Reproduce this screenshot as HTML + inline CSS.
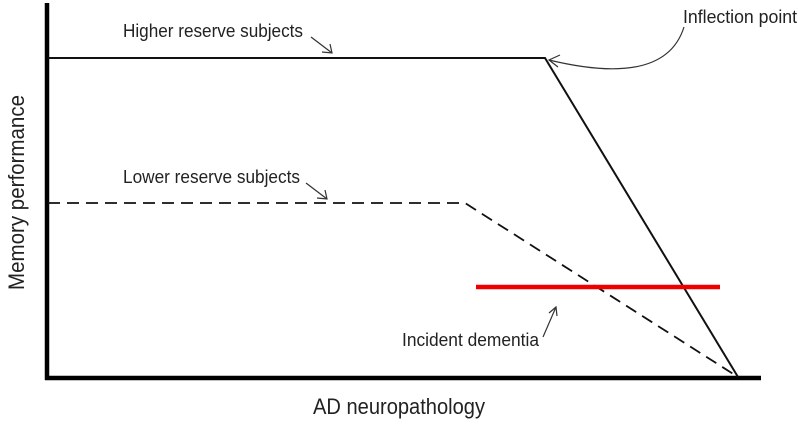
<!DOCTYPE html>
<html><head><style>body{margin:0;background:#fff}</style></head><body>
<svg width="798" height="425" xmlns="http://www.w3.org/2000/svg" font-family="Liberation Sans, sans-serif" fill="#222">
<rect width="798" height="425" fill="#fff"/>
<line x1="47" y1="3" x2="47" y2="380" stroke="#000" stroke-width="4.5"/>
<line x1="45" y1="378" x2="761" y2="378" stroke="#000" stroke-width="4.5"/>
<polyline points="48,58 545,58 738,377" fill="none" stroke="#111" stroke-width="2"/>
<polyline points="48,203 465,203 738,377" fill="none" stroke="#111" stroke-width="1.8" stroke-dasharray="12,7"/>
<line x1="476" y1="287" x2="720" y2="287" stroke="#e00" stroke-width="4.5"/>
<g stroke="#333" stroke-width="1.2" fill="none">
<line x1="311" y1="37" x2="332" y2="53"/><polyline points="322,52 332,53 330,44"/>
<line x1="306" y1="183" x2="327" y2="199"/><polyline points="317,198 327,199 325,190"/>
<line x1="543" y1="337" x2="556" y2="307"/><polyline points="549,313 556,307 557,316"/>
<path d="M684,27 Q665,88 549,60"/><polyline points="560,55 549,60 558,67"/>
</g>
<text x="123" y="37" font-size="18" textLength="180" lengthAdjust="spacingAndGlyphs">Higher reserve subjects</text>
<text x="123" y="183" font-size="18" textLength="177" lengthAdjust="spacingAndGlyphs">Lower reserve subjects</text>
<text x="683" y="23" font-size="18" textLength="114" lengthAdjust="spacingAndGlyphs">Inflection point</text>
<text x="402" y="346" font-size="18" textLength="137" lengthAdjust="spacingAndGlyphs">Incident dementia</text>
<text x="313" y="414" font-size="22" textLength="172" lengthAdjust="spacingAndGlyphs">AD neuropathology</text>
<text transform="translate(24,290) rotate(-90)" font-size="22" textLength="195" lengthAdjust="spacingAndGlyphs">Memory performance</text>
</svg>
</body></html>
